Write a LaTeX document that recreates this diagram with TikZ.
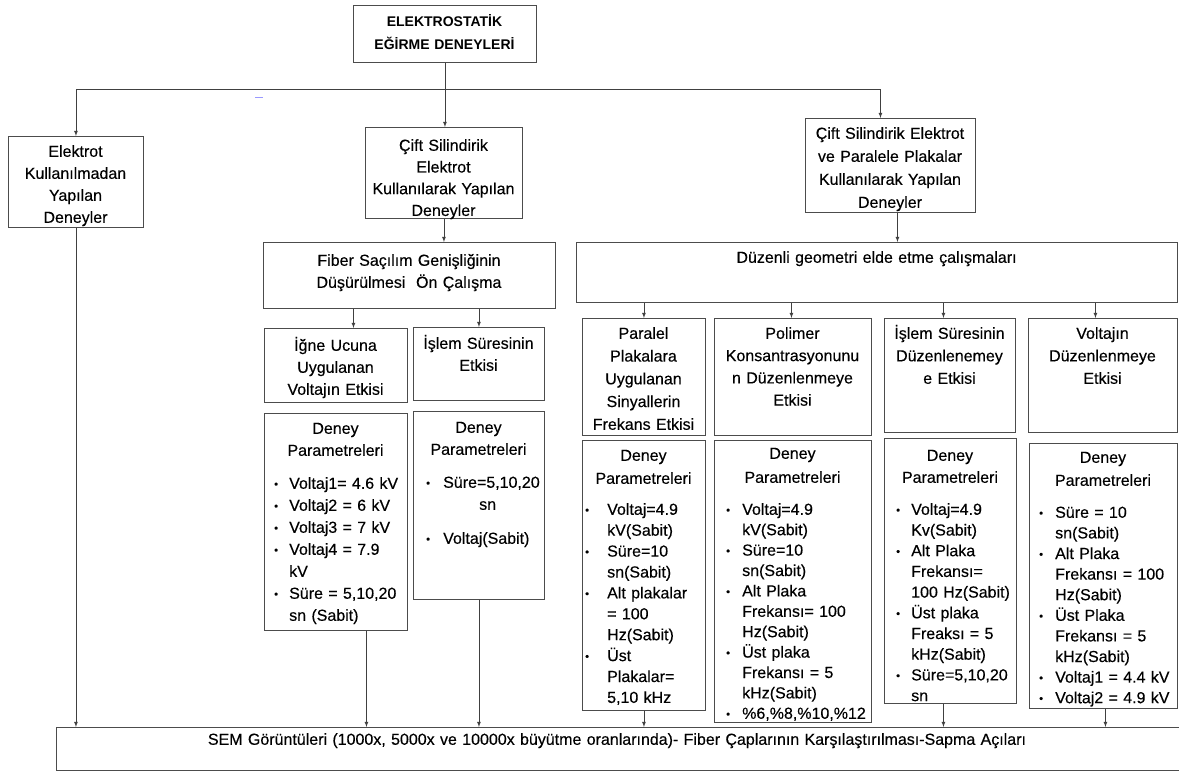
\documentclass[tikz,border=0pt]{standalone}
\usepackage{fontspec}
\setmainfont{Liberation Sans}[UprightFeatures={FakeBold=0.3}]
\def\bw{16pt}
\newcommand{\itm}{\makebox[\bw][l]{\raisebox{1pt}{\fontsize{11}{11}\selectfont\textbullet}}}
\newcommand{\cnt}{\hspace*{\bw}}

\begin{document}
\begin{tikzpicture}[x=1pt, y=-1pt,
    box/.style={draw=black!70, line width=.9pt, anchor=north west, inner sep=0pt},
    txt/.style={font=\fontsize{16}{#1}\selectfont, text width=200, align=center, anchor=base, inner sep=0pt},
    txt/.default=22,
    lst/.style={txt=#1, text width=170, align=left, anchor=base west},
    lst/.default=21,
    con/.style={black!75, line width=.8pt, -latex}]
        \useasboundingbox (0,0) rectangle (1179,773);
        \clip (0,0) rectangle (1179,773);
        \node[box, minimum width=183, minimum height=57] (title) at (353,5) {};
        \node[box, minimum width=135, minimum height=91] (elek) at (8,136) {};
        \node[box, minimum width=157, minimum height=91] (cift1) at (365,127) {};
        \node[box, minimum width=170, minimum height=94] (cift2) at (805,118) {};
        \node[box, minimum width=292, minimum height=66] (fiber) at (263,242) {};
        \node[box, minimum width=601, minimum height=60] (duzen) at (576,242) {};
        \node[box, minimum width=143, minimum height=74] (igne) at (264,328) {};
        \node[box, minimum width=131, minimum height=73] (islem1) at (413,327) {};
        \node[box, minimum width=123, minimum height=117] (paralel) at (582,318) {};
        \node[box, minimum width=157, minimum height=117] (polimer) at (714,318) {};
        \node[box, minimum width=131, minimum height=114] (islem2) at (884,318) {};
        \node[box, minimum width=149, minimum height=114] (voltaj) at (1028,318) {};
        \node[box, minimum width=143, minimum height=217] (deney1) at (264,413) {};
        \node[box, minimum width=131, minimum height=188] (deney2) at (413,411) {};
        \node[box, minimum width=123, minimum height=270] (deney3) at (582,440) {};
        \node[box, minimum width=157, minimum height=282] (deney4) at (714,440) {};
        \node[box, minimum width=132, minimum height=265] (deney5) at (884,438) {};
        \node[box, minimum width=148, minimum height=265] (deney6) at (1029,443) {};
        \node[box, minimum width=1140, minimum height=43] (sem) at (56,727) {};

        \node[txt, font=\fontsize{14}{23}\selectfont\bfseries] (titletxt) at (444.5,27) {ELEKTROSTATİK\\EĞİRME DENEYLERİ};
        \node[txt] (elektxt) at (75.5,156.8) {Elektrot\\Kullanılmadan\\Yapılan\\Deneyler};
        \node[txt=21.7] (cift1txt) at (443.5,150.8) {Çift Silindirik\\Elektrot\\Kullanılarak Yapılan\\Deneyler};
        \node[txt=23] (cift2txt) at (890,138.8) {Çift Silindirik Elektrot\\ve Paralele Plakalar\\Kullanılarak Yapılan\\Deneyler};
        \node[txt] (fibertxt) at (409,265.8) {Fiber Saçılım Genişliğinin\\Düşürülmesi~ Ön Çalışma};
        \node[txt, text width=400] (duzentxt) at (876.5,262.8) {Düzenli geometri elde etme çalışmaları};
        \node[txt] (ignetxt) at (335.5,350.8) {İğne Ucuna\\Uygulanan\\Voltajın Etkisi};
        \node[txt] (islem1txt) at (478.5,348.8) {İşlem Süresinin\\Etkisi};
        \node[txt=22.75] (paraleltxt) at (643.5,338.8) {Paralel\\Plakalara\\Uygulanan\\Sinyallerin\\Frekans Etkisi};
        \node[txt=22.3] (polimertxt) at (792.5,338.8) {Polimer\\Konsantrasyonunu\\n Düzenlenmeye\\Etkisi};
        \node[txt=22.5] (islem2txt) at (949.5,338.8) {İşlem Süresinin\\Düzenlenemey\\e Etkisi};
        \node[txt=22.5] (voltajtxt) at (1102.5,338.8) {Voltajın\\Düzenlenmeye\\Etkisi};
        \node[txt] (d1txt) at (335.5,433.8) {Deney\\Parametreleri};
        \node[txt] (d2txt) at (478.5,432.8) {Deney\\Parametreleri};
        \node[txt=23] (d3txt) at (643.5,460.8) {Deney\\Parametreleri};
        \node[txt=24] (d4txt) at (792.5,458.8) {Deney\\Parametreleri};
        \node[txt] (d5txt) at (950,460.8) {Deney\\Parametreleri};
        \node[txt=23] (d6txt) at (1103,462.8) {Deney\\Parametreleri};

        \def\bw{15pt}
        \node[lst=22] (l1) at (274,488.8) {\itm Voltaj1= 4.6 kV\\\itm Voltaj2 = 6 kV\\\itm Voltaj3 = 7 kV\\\itm Voltaj4 = 7.9\\\cnt kV\\\itm Süre = 5,10,20\\\cnt sn (Sabit)};
        \def\bw{17pt}
        \node[lst=22] (l2) at (426,487.8) {\itm Süre=5,10,20\\\cnt\hspace*{36pt}sn\\[12pt]\itm Voltaj(Sabit)};
        \def\bw{22pt}
        \node[lst=20.9] (l3) at (585,514.8) {\itm Voltaj=4.9\\\cnt kV(Sabit)\\\itm Süre=10\\\cnt sn(Sabit)\\\itm Alt plakalar\\\cnt = 100\\\cnt Hz(Sabit)\\\itm Üst\\\cnt Plakalar=\\\cnt 5,10 kHz};
        \def\bw{16pt}
        \node[lst=20.4] (l4) at (726,514.8) {\itm Voltaj=4.9\\\cnt kV(Sabit)\\\itm Süre=10\\\cnt sn(Sabit)\\\itm Alt Plaka\\\cnt Frekansı= 100\\\cnt Hz(Sabit)\\\itm Üst plaka\\\cnt Frekansı = 5\\\cnt kHz(Sabit)\\\itm \%6,\%8,\%10,\%12};
        \def\bw{15pt}
        \node[lst=20.7] (l5) at (896,514.8) {\itm Voltaj=4.9\\\cnt Kv(Sabit)\\\itm Alt Plaka\\\cnt Frekansı=\\\cnt 100 Hz(Sabit)\\\itm Üst plaka\\\cnt Freaksı = 5\\\cnt kHz(Sabit)\\\itm Süre=5,10,20\\\cnt sn};
        \def\bw{16pt}
        \node[lst=20.6] (l6) at (1039,517.8) {\itm Süre = 10\\\cnt sn(Sabit)\\\itm Alt Plaka\\\cnt Frekansı = 100\\\cnt Hz(Sabit)\\\itm Üst Plaka\\\cnt Frekansı = 5\\\cnt kHz(Sabit)\\\itm Voltaj1 = 4.4 kV\\\itm Voltaj2 = 4.9 kV};
        \node[txt, text width=1000] (semtxt) at (617,744.8) {SEM Görüntüleri (1000x, 5000x ve 10000x büyütme oranlarında)- Fiber Çaplarının Karşılaştırılması-Sapma Açıları};

        \coordinate (hub) at (title.south |- 0,89);
        \draw[con] (title.south) -- (title.south |- cift1.north);
        \draw[con] (hub) -| (elek.north);
        \draw[con] (hub) -| ([xshift=-10]cift2.north);
        \draw[con] (cift1.south) -- (cift1.south |- fiber.north);
        \draw[con] ([xshift=7]cift2.south) -- ([xshift=7]cift2.south |- duzen.north);
        \draw[con] ([xshift=17.5]igne.north |- fiber.south) -- ([xshift=17.5]igne.north);
        \draw[con] (islem1.north |- fiber.south) -- (islem1.north);
        \foreach \n/\dx in {paralel/0, polimer/-1.5, islem2/-6.5, voltaj/-7.5}
        \draw[con] ([xshift=\dx]\n.north |- duzen.south) -- ([xshift=\dx]\n.north);
        \foreach \n/\dx in {elek/0, deney1/30.5, deney2/0, deney3/0, deney5/-7, deney6/2}
        \draw[con] ([xshift=\dx]\n.south) -- ([xshift=\dx]\n.south |- sem.north);
        \draw[blue!40, line width=1pt] (255,98) -- (263,98);
\end{tikzpicture}
\end{document}
